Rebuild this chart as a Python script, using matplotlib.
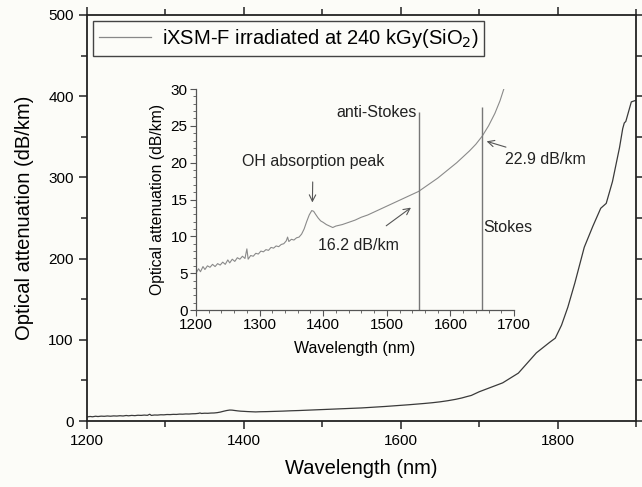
import numpy as np
import matplotlib
matplotlib.use('Agg')
import matplotlib.pyplot as plt
from matplotlib.ticker import MultipleLocator

plt.rcParams['font.family'] = ['Liberation Sans', 'DejaVu Sans']

# datos (zona del inset, 1200-1684 nm)
wl_inset = [1200, 1204, 1207, 1211, 1214, 1218, 1222, 1226, 1230, 1234, 1238, 1242, 1246,
            1250, 1253, 1257, 1261, 1265, 1269, 1273, 1277, 1280, 1282, 1286, 1290, 1294,
            1298, 1302, 1306, 1310, 1314, 1318, 1322, 1326, 1330, 1334, 1338, 1342, 1344,
            1346, 1350, 1354, 1358, 1362, 1366, 1370, 1374, 1378, 1382, 1385, 1388, 1392,
            1396, 1400, 1405, 1410, 1415, 1420, 1425, 1430, 1440, 1450, 1460, 1470, 1480,
            1490, 1500, 1510, 1520, 1530, 1540, 1550, 1560, 1570, 1580, 1590, 1600, 1610,
            1620, 1630, 1640, 1650, 1660, 1670, 1678, 1684]
att_inset = [5.0, 5.6, 5.2, 5.9, 5.5, 6.0, 5.8, 6.2, 5.9, 6.3, 6.1, 6.5, 6.2,
             6.8, 6.4, 6.9, 6.6, 7.1, 6.9, 7.3, 7.0, 8.3, 6.9, 7.4, 7.3, 7.7,
             7.6, 8.0, 7.9, 8.2, 8.1, 8.5, 8.4, 8.7, 8.6, 8.9, 9.0, 9.4, 9.9,
             9.3, 9.6, 9.5, 9.8, 9.9, 10.3, 11.0, 12.0, 12.9, 13.5, 13.4, 13.0, 12.5,
             12.1, 11.9, 11.6, 11.4, 11.2, 11.4, 11.5, 11.6, 11.9, 12.2, 12.6, 12.9, 13.3,
             13.7, 14.1, 14.5, 14.9, 15.3, 15.7, 16.1, 16.7, 17.3, 17.9, 18.6, 19.3, 20.0,
             20.8, 21.6, 22.5, 23.6, 25.0, 26.7, 28.4, 30.0]

# resto de la curva principal
wl_tail = [1690, 1700, 1730, 1750, 1773, 1790, 1797, 1805, 1813, 1822, 1834, 1845,
           1855, 1862, 1870, 1879, 1883, 1885, 1887, 1894, 1900]
att_tail = [31.5, 36, 47, 59, 84, 97, 102, 118, 140, 170, 214, 240,
            262, 268, 295, 337, 360, 367, 369, 393, 395]

stokes_x = [1550, 1650]
stokes_top = [26.9, 27.6]

wl_main = wl_inset + wl_tail
att_main = att_inset + att_tail

bg = '#fcfcf8'
fig = plt.figure(figsize=(6.42, 4.87), dpi=100, facecolor=bg)
ax = fig.add_axes([0.1355, 0.1355, 0.9907 - 0.1355, 0.9692 - 0.1355], facecolor=bg)

ax.plot(wl_main, att_main, color='#3a3a3a', linewidth=0.9,
        label='iXSM-F irradiated at 240 kGy(SiO$_2$)')
ax.set_xlim(1200, 1900)
ax.set_ylim(0, 500)
ax.xaxis.set_major_locator(MultipleLocator(200))
ax.xaxis.set_minor_locator(MultipleLocator(100))
ax.yaxis.set_major_locator(MultipleLocator(100))
ax.yaxis.set_minor_locator(MultipleLocator(50))
ax.tick_params(which='both', direction='out', top=True, right=True, labelsize=11,
               color='#222222', width=1.1)
ax.tick_params(which='major', length=6)
ax.tick_params(which='minor', length=4)
for s in ax.spines.values():
    s.set_linewidth(1.3)
    s.set_color('#222222')
ax.set_xlabel('Wavelength (nm)', fontsize=14.5, labelpad=8)
ax.set_ylabel('Optical attenuation (dB/km)', fontsize=14.5, labelpad=10)

leg = ax.legend(loc='upper left', fontsize=14.5, fancybox=False, handlelength=2.6,
                borderaxespad=0.3, borderpad=0.3, handletextpad=0.5)
leg.get_frame().set_edgecolor('#444444')
leg.get_frame().set_linewidth(1.0)
leg.get_frame().set_facecolor(bg)
leg.get_frame().set_alpha(1)
leg.get_lines()[0].set_color('#888888')

# inset
axi = fig.add_axes([0.3053, 0.3634, 0.8006 - 0.3053, 0.8172 - 0.3634], facecolor='none')
axi.plot(wl_inset, att_inset, color='#8a8a8a', linewidth=0.8)
axi.vlines(stokes_x, 0, stokes_top, color='#777777', linewidth=1.0)
axi.set_xlim(1200, 1700)
axi.set_ylim(0, 30)
axi.xaxis.set_major_locator(MultipleLocator(100))
axi.xaxis.set_minor_locator(MultipleLocator(20))
axi.yaxis.set_major_locator(MultipleLocator(5))
axi.yaxis.set_minor_locator(MultipleLocator(1))
axi.spines['top'].set_visible(False)
axi.spines['right'].set_visible(False)
for s in ['left', 'bottom']:
    axi.spines[s].set_color('#555555')
    axi.spines[s].set_linewidth(0.9)
axi.tick_params(which='both', direction='out', labelsize=11, color='#555555', pad=2)
axi.tick_params(which='major', length=4)
axi.tick_params(which='minor', length=2)
axi.set_xlabel('Wavelength (nm)', fontsize=11.5, labelpad=6)
axi.set_ylabel('Optical attenuation (dB/km)', fontsize=11.3, labelpad=4)

arrow = dict(arrowstyle='->', color='#555555', linewidth=0.8, shrinkA=0, shrinkB=0)
axi.text(1547, 26.8, 'anti-Stokes', fontsize=11.5, ha='right', va='center', color='#222222')
axi.text(1651, 11.2, 'Stokes', fontsize=11.5, ha='left', va='center', color='#222222')
axi.annotate('OH absorption peak', xy=(1383, 14.6), xytext=(1384, 20.1), fontsize=11.5,
             ha='center', va='center', color='#222222',
             arrowprops=dict(arrow, shrinkA=7))
axi.annotate('16.2 dB/km', xy=(1538, 13.9), xytext=(1456, 8.7), fontsize=11.5,
             ha='center', va='center', color='#222222',
             arrowprops=dict(arrow, shrinkA=12))
axi.annotate('22.9 dB/km', xy=(1657, 22.9), xytext=(1686, 20.5), fontsize=11.5,
             ha='left', va='center', color='#222222',
             arrowprops=dict(arrow, shrinkA=4))

fig.savefig('out.png', dpi=100, facecolor=bg)
